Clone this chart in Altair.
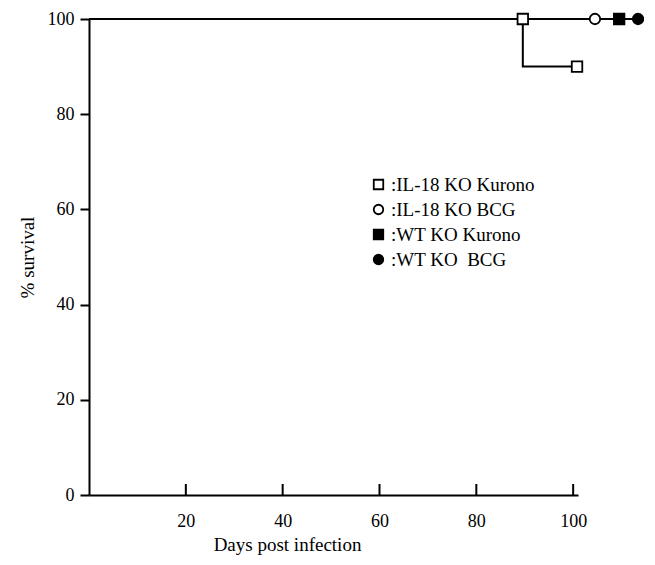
import altair as alt
import pandas as pd

# ---- data ----
groups = [":IL-18 KO Kurono", ":IL-18 KO BCG", ":WT KO Kurono", ":WT KO\u00a0 BCG"]
curve_times = [
    [0, 89.6, 89.6, 100.8],
    [0, 104.5],
    [0, 109.5],
    [0, 113.4],
]
curve_surv = [
    [100, 100, 90, 90],
    [100, 100],
    [100, 100],
    [100, 100],
]
marker_group = [groups[0], groups[0], groups[1], groups[2], groups[3]]
marker_time = [89.6, 100.8, 104.5, 109.5, 113.4]
marker_surv = [100, 90, 100, 100, 100]
x_ticks = [20, 40, 60, 80, 100]
y_ticks = [0, 20, 40, 60, 80, 100]

rows = []
for g, ts, ss in zip(groups, curve_times, curve_surv):
    for i, (t, s) in enumerate(zip(ts, ss)):
        rows.append({"group": g, "day": t, "surv": s, "o": i})
lines_df = pd.DataFrame(rows)
marks_df = pd.DataFrame({"group": marker_group, "day": marker_time, "surv": marker_surv})
ticks_df = pd.DataFrame({"day": x_ticks})

FONT = "Liberation Serif"
W, H = 489, 476

xscale = alt.Scale(domain=[0, 101], nice=False, zero=False)
yscale = alt.Scale(domain=[0, 100], nice=False)

xaxis = alt.Axis(values=x_ticks, ticks=False, grid=False, labelFont=FONT, labelFontSize=18,
                 labelColor="black", labelPadding=17, domainColor="black", domainWidth=2,
                 title="Days post infection", titleFont=FONT, titleFontSize=19,
                 titleFontWeight="normal", titleColor="black", titleX=198, titleY=49,
                 titleAlign="center", titleBaseline="middle")
yaxis = alt.Axis(values=y_ticks, grid=False, tickSize=9, tickWidth=2, tickColor="black",
                 labelFont=FONT, labelFontSize=18, labelColor="black", labelPadding=6,
                 domainColor="black", domainWidth=2,
                 title="% survival", titleFont=FONT, titleFontSize=19,
                 titleFontWeight="normal", titleColor="black", titleX=-62, titleY=238,
                 titleAlign="center", titleBaseline="middle")

lines = alt.Chart(lines_df).mark_line(interpolate="step-after", color="black", strokeWidth=2).encode(
    x=alt.X("day:Q", scale=xscale, axis=xaxis),
    y=alt.Y("surv:Q", scale=yscale, axis=yaxis),
    detail="group:N",
    order="o:Q",
)

shape_scale = alt.Scale(domain=groups, range=["square", "circle", "square", "circle"])
fill_scale = alt.Scale(domain=groups, range=["white", "white", "black", "black"])
stroke_scale = alt.Scale(domain=groups, range=["black", "black", "black", "black"])
legend = alt.Legend(title=None, orient="none", legendX=280, legendY=156, labelFont=FONT,
                    labelFontSize=19, labelColor="black", symbolSize=90,
                    symbolStrokeWidth=1.8, rowPadding=5, labelOffset=3, labelLimit=300)

points = alt.Chart(marks_df).mark_point(filled=True, size=110, strokeWidth=1.8, opacity=1).encode(
    x=alt.X("day:Q", scale=xscale),
    y=alt.Y("surv:Q", scale=yscale),
    shape=alt.Shape("group:N", scale=shape_scale, legend=legend),
    fill=alt.Fill("group:N", scale=fill_scale, legend=legend),
    stroke=alt.Stroke("group:N", scale=stroke_scale, legend=legend),
)

xticks = alt.Chart(ticks_df).mark_rule(color="black", strokeWidth=2).encode(
    x=alt.X("day:Q", scale=xscale),
    y=alt.value(H),
    y2=alt.value(H - 11),
)

chart = alt.layer(lines, xticks, points).properties(
    width=W, height=H,
    background="white",
    autosize=alt.AutoSizeParams(type="none"),
    padding={"left": 81, "top": 11, "right": 66, "bottom": 62},
).configure_view(stroke=None)

chart.save("out.html", embed_options={"renderer": "svg", "actions": False})
